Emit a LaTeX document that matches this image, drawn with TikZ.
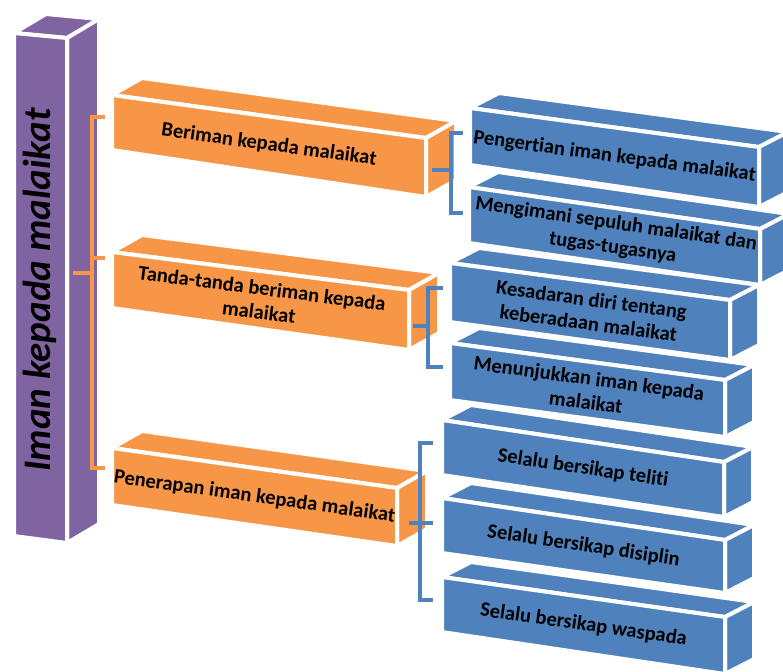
\documentclass[tikz,border=0pt]{standalone}
\usepackage{fontspec}
\setmainfont{Carlito}[Ligatures={NoCommon}]
\definecolor{orng}{HTML}{F79646}
\definecolor{blu}{HTML}{4F81BD}
\definecolor{purp}{HTML}{8064A2}
\def\cdx{30}\def\cdy{-17}
% #1 name, #2 colour, #3 x1, #4 y1 (front top-left), #5 x2, #6 y2 (front top-right), #7 left height, #8 right height, #9 text
\newcommand\cubo[9]{%
  \path[fill=#2, face] (#3,#4) -- (#3+\cdx,#4+\cdy) -- (#5+\cdx,#6+\cdy) -- (#5,#6) -- cycle;
  \path[fill=#2, face] (#5,#6) -- (#5+\cdx,#6+\cdy) -- (#5+\cdx,#6+#8+\cdy) -- (#5,#6+#8) -- cycle;
  \path[fill=#2, face] (#3,#4) -- (#5,#6) -- (#5,#6+#8) -- (#3,#4+#7) -- cycle;
  \pgfmathsetmacro\cang{atan2(#4-#6,#5-#3)}%
  \node[lbl, rotate=\cang] (#1) at ({(#3+#5)/2},{(#4+#6)/2+(#7+#8)/4}) {#9};
}
\begin{document}
\begin{tikzpicture}[x=1pt,y=-1pt,
  face/.style={draw=white,line width=4pt,line join=round},
  lbl/.style={font=\fontsize{20.5}{24}\selectfont\bfseries, inner sep=0pt, align=center, text=black},
  obr/.style={draw=orng, line width=3.6pt, line join=miter},
  bbr/.style={draw=blu, line width=3.8pt, line join=miter}]
\useasboundingbox (0,0) rectangle (783,671);
\clip (0,0) rectangle (783,671);

% purple column
\path[fill=purp, face] (14,33) -- (46,14) -- (99,19) -- (67,38) -- cycle;
\path[fill=purp, face] (67,38) -- (99,19) -- (99,524) -- (67,543) -- cycle;
\path[fill=purp, face] (14,33) -- (67,38) -- (67,543) -- (14,536) -- cycle;
\node[font=\fontsize{39}{40}\selectfont\bfseries\itshape, rotate=90, inner sep=0pt] (iman) at (40,290) {Iman kepada malaikat};

% orange bracket
\coordinate (oStem) at (73,273);
\coordinate (oJoin) at (92,273);
\coordinate (oTop) at (92,117);
\coordinate (oMid) at (92,258);
\coordinate (oBot) at (92,468);
\draw[obr] (oStem) -- (oJoin);
\draw[obr] ([xshift=13pt]oTop) -- (oTop) -- (oBot) -- ([xshift=13pt]oBot);
\draw[obr] (oMid) -- ([xshift=13pt]oMid);

% orange boxes
\cubo{o1}{orng}{112}{95}{426}{138}{55}{59}{Beriman kepada malaikat}
\cubo{o2}{orng}{112}{252}{409}{290}{56}{60}{Tanda-tanda beriman kepada\\malaikat}
\cubo{o3}{orng}{112}{448}{397}{488}{57}{58}{Penerapan iman kepada malaikat}

% blue boxes
\def\cdx{29}\def\cdy{-15}
\cubo{b1}{blu}{470}{108}{759}{147}{57}{60}{Pengertian iman kepada malaikat}
\cubo{b2}{blu}{469}{187}{760}{229}{56}{56}{Mengimani sepuluh malaikat dan\\tugas-tugasnya}
\cubo{b3}{blu}{450}{263}{730}{300}{59}{60}{Kesadaran diri tentang\\keberadaan malaikat}
\cubo{b4}{blu}{450}{343}{725}{380}{57}{57}{Menunjukkan iman kepada\\malaikat}
\cubo{b5}{blu}{442}{420}{724}{462}{55}{55}{Selalu bersikap teliti}
\cubo{b6}{blu}{442}{498}{725}{540}{55}{53}{Selalu bersikap disiplin}
\cubo{b7}{blu}{442}{577}{725}{617}{55}{57}{Selalu bersikap waspada}

% blue brackets
\coordinate (s1) at (432,170); \coordinate (j1) at (451,170);
\coordinate (t1) at (451,133); \coordinate (e1) at (451,213);
\draw[bbr] (s1) -- (j1);
\draw[bbr] ([xshift=12pt]t1) -- (t1) -- (e1) -- ([xshift=12pt]e1);

\coordinate (s2) at (413,326); \coordinate (j2) at (428,326);
\coordinate (t2) at (428,288); \coordinate (e2) at (428,367);
\draw[bbr] (s2) -- (j2);
\draw[bbr] ([xshift=15pt]t2) -- (t2) -- (e2) -- ([xshift=15pt]e2);

\coordinate (s3) at (409,523); \coordinate (j3) at (433,523);
\coordinate (t3) at (420,443); \coordinate (e3) at (420,600);
\draw[bbr] (s3) -- (j3);
\draw[bbr] ([xshift=13pt]t3) -- (t3) -- (e3) -- ([xshift=13pt]e3);
\end{tikzpicture}
\end{document}
